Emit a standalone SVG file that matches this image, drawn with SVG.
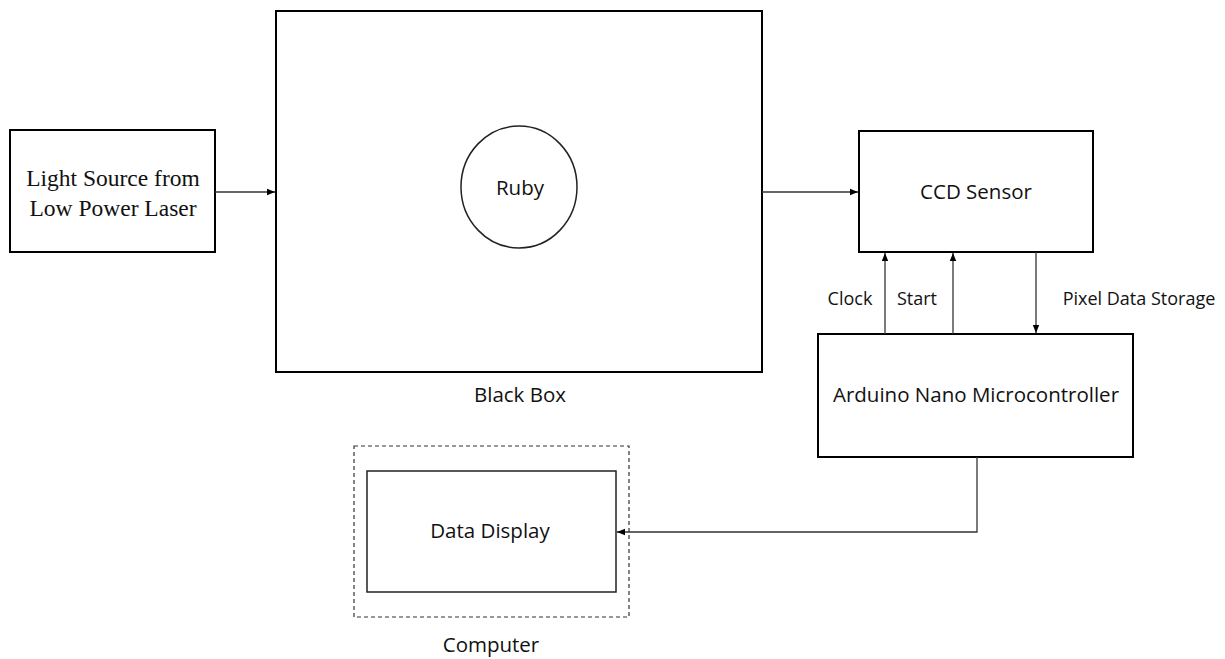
<svg xmlns="http://www.w3.org/2000/svg" width="1225" height="659" viewBox="0 0 1225 659">
<style>
.box{fill:#fff;stroke:#000;stroke-width:2}
.thin{fill:#fff;stroke:#222;stroke-width:1.5}
.dash{fill:none;stroke:#333;stroke-width:1.2;stroke-dasharray:4 3}
.con{fill:none;stroke:#333;stroke-width:1.3}
.t{font-family:"Open Sans","Liberation Sans",sans-serif;fill:#111;text-anchor:middle;font-size:20.5px}
.l{font-family:"Open Sans","Liberation Sans",sans-serif;fill:#111;text-anchor:middle;font-size:18px}
.s{font-family:"Liberation Serif","Times New Roman",serif;fill:#111;text-anchor:middle;font-size:23.5px}
</style>
<defs>
<marker id="ah" viewBox="0 0 10 10" refX="10" refY="5" markerWidth="8" markerHeight="8" markerUnits="userSpaceOnUse" orient="auto">
<path d="M0,1 L10,5 L0,9 Z" fill="#000"/>
</marker>
</defs>
<g id="light">
<rect class="box" x="10" y="130" width="205" height="122"/>
<text class="s" x="113" y="186">Light Source from</text>
<text class="s" x="113" y="216">Low Power Laser</text>
</g>
<g id="blackbox">
<rect class="box" x="276" y="11" width="486" height="361"/>
<text class="t" x="520" y="402">Black Box</text>
</g>
<g id="ruby">
<ellipse class="thin" cx="519" cy="187" rx="58" ry="61"/>
<text class="t" x="520" y="195">Ruby</text>
</g>
<g id="ccd">
<rect class="box" x="859" y="131" width="234" height="121"/>
<text class="t" x="976" y="199">CCD Sensor</text>
</g>
<g id="arduino">
<rect class="box" x="818" y="334" width="315" height="123"/>
<text class="t" x="976" y="402">Arduino Nano Microcontroller</text>
</g>
<g id="computer">
<rect class="dash" x="354" y="446" width="275" height="171"/>
<text class="t" x="491" y="652">Computer</text>
</g>
<g id="display">
<rect class="thin" x="367" y="471" width="249" height="121"/>
<text class="t" x="490" y="538">Data Display</text>
</g>
<g id="connectors">
<line class="con" x1="215" y1="192" x2="275" y2="192" marker-end="url(#ah)"/>
<line class="con" x1="762" y1="192" x2="858" y2="192" marker-end="url(#ah)"/>
<line class="con" x1="885" y1="334" x2="885" y2="253" marker-end="url(#ah)"/>
<line class="con" x1="953" y1="334" x2="953" y2="253" marker-end="url(#ah)"/>
<line class="con" x1="1036" y1="252" x2="1036" y2="333" marker-end="url(#ah)"/>
<polyline class="con" points="977,457 977,532 617,532" marker-end="url(#ah)"/>
<text class="l" x="850" y="305">Clock</text>
<text class="l" x="917" y="305">Start</text>
<text class="l" x="1139" y="305">Pixel Data Storage</text>
</g>
</svg>
